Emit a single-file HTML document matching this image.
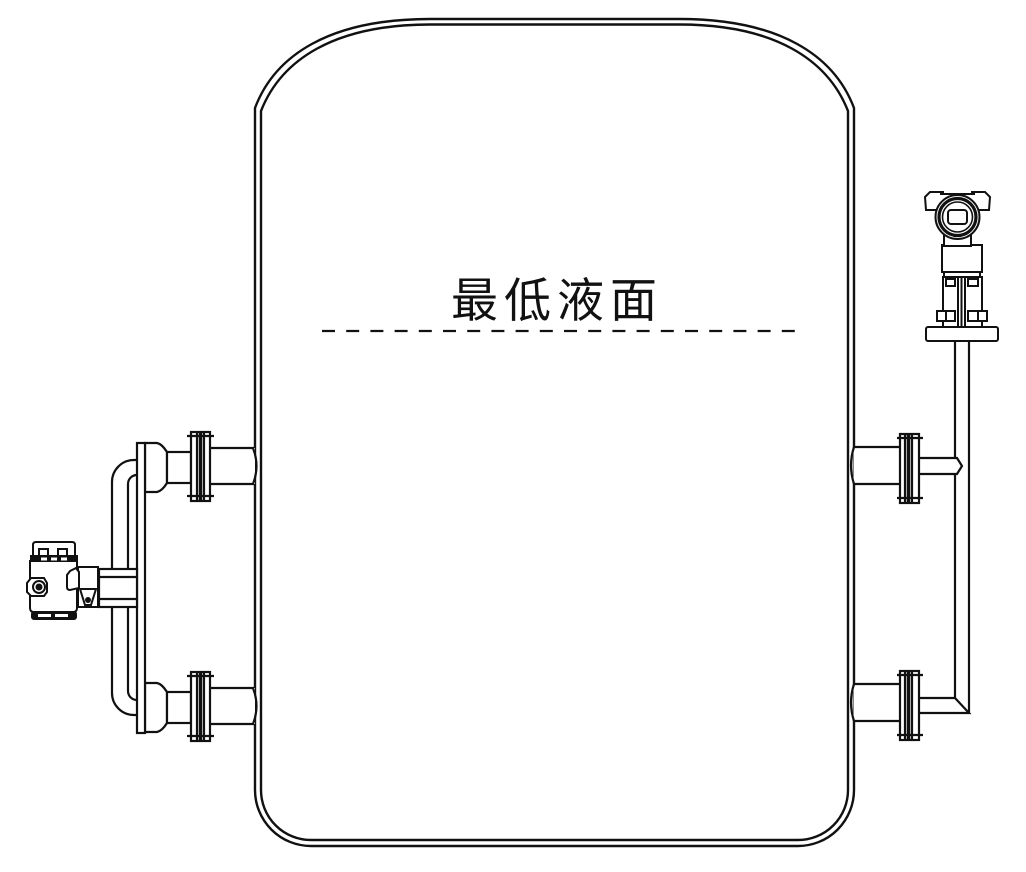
<!DOCTYPE html>
<html><head><meta charset="utf-8"><style>
html,body{margin:0;padding:0;background:#fff;}
svg{display:block;}
</style></head><body>
<svg width="1026" height="872" viewBox="0 0 1026 872" xmlns="http://www.w3.org/2000/svg">
<rect x="0" y="0" width="1026" height="872" fill="#fff"/>
<!-- Tank -->
<g fill="none" stroke="#111" stroke-width="2.4" stroke-linejoin="round">
<path d="M255,108 C275,55 330,19 430,19 L679,19 C779,19 834,55 854,108 L854,790 A56,56 0 0 1 798,846 L311,846 A56,56 0 0 1 255,790 Z"/>
<path d="M261,111 C281,60 334,24.5 430,24.5 L679,24.5 C775,24.5 828,60 848,111 L848,790 A50,50 0 0 1 798,840 L311,840 A50,50 0 0 1 261,790 Z"/>
</g>

<!-- Label and level line -->
<text x="451" y="317" font-family="'Liberation Sans','Noto Sans CJK SC',sans-serif" font-size="47" letter-spacing="6" fill="#111">最低液面</text>
<line x1="322" y1="331" x2="796" y2="331" stroke="#111" stroke-width="2.2" stroke-dasharray="13 11.2"/>

<!-- Left U pipe -->
<g fill="none" stroke="#111" stroke-width="2.2">
<path d="M137,460 L134,460 A22,22 0 0 0 112,482 L112,693 A22,22 0 0 0 134,715 L137,715"/>
<path d="M137,475 A9,9 0 0 0 128,484 L128,691 A9,9 0 0 0 137,700"/>
</g>

<!-- Left nozzles -->
<g id="lnoz" stroke="#111" stroke-width="2.2">
<rect x="210" y="448" width="45" height="36" fill="#fff" stroke="none"/>
<path d="M210,448 L254,448 M210,484 L254,484" fill="none"/>
<path d="M253,448 Q260,466 253,484" fill="none"/>
<path d="M145,443 L157,443 Q162,444 167,452 L167,483 Q162,491 157,492 L145,492 Z" fill="#fff"/>
<rect x="167" y="452" width="24" height="31" fill="#fff"/>
<rect x="191" y="432" width="19" height="69" fill="#fff"/>
<line x1="197" y1="432" x2="197" y2="501"/>
<line x1="200.5" y1="432" x2="200.5" y2="501" stroke-width="3.5"/>
<line x1="204" y1="432" x2="204" y2="501"/>
<line x1="187" y1="436" x2="214" y2="436"/>
<line x1="187" y1="496" x2="214" y2="496"/>
</g>
<use href="#lnoz" transform="translate(0,240)"/>

<!-- Left plate -->
<rect x="137" y="443" width="8" height="290" fill="#fff" stroke="#111" stroke-width="2.2"/>

<!-- Left transmitter horizontal pipe -->
<g stroke="#111" stroke-width="2.2">
<rect x="99" y="569" width="38" height="38" fill="#fff"/>
<line x1="99" y1="577" x2="137" y2="577"/>
<line x1="99" y1="599" x2="137" y2="599"/>
</g>

<!-- Left transmitter -->
<g stroke="#111" stroke-width="2" fill="#fff">
<path d="M33,557 L33,545 Q33,542 36,542 L72,542 Q75,542 75,545 L75,557 Z"/>
<rect x="39" y="549" width="9" height="8"/>
<rect x="58" y="549" width="9" height="8"/>
<rect x="31" y="556" width="46" height="6" fill="#111"/>
<path d="M30,561 L77,561 L77,608 Q77,612 73,612 L34,612 Q30,612 30,608 Z"/>
<rect x="32" y="612" width="44" height="7" rx="2" fill="#111"/>
<polygon points="27,583 31,578 44,578 47,583 47,592 44,596 31,596 27,592"/>
<circle cx="39" cy="587" r="6"/>
<circle cx="39" cy="587" r="2.5" fill="#111"/>
<path d="M78,567 L98,567 L98,607 L78,607 Z"/>
<path d="M70,571 L76,568 L79,572 L79,588 L70,590 Q67,590 67,587 L67,575 Z"/>
<path d="M80,589 L96,589 L91,605 L85,605 Z"/>
<circle cx="88" cy="600" r="2" fill="#111"/>
</g>
<g fill="#fff" stroke="none">
<rect x="41" y="557.5" width="6" height="3"/>
<rect x="51" y="557.5" width="6" height="3"/>
<rect x="61" y="557.5" width="6" height="3"/>
<rect x="38" y="614" width="13" height="3"/>
<rect x="55" y="614" width="13" height="3"/>
</g>

<!-- Right nozzles -->
<g id="rnoz" stroke="#111" stroke-width="2.2">
<rect x="853.5" y="447" width="47" height="37" fill="#fff" stroke="none"/>
<path d="M854,447 L900,447 M854,484 L900,484" fill="none"/>
<path d="M854,447 Q848,465.5 854,484" fill="none"/>
<rect x="900" y="434" width="19" height="69" fill="#fff"/>
<line x1="905" y1="434" x2="905" y2="503"/>
<line x1="908.5" y1="434" x2="908.5" y2="503" stroke-width="3.5"/>
<line x1="912" y1="434" x2="912" y2="503"/>
<line x1="897" y1="438" x2="923" y2="438"/>
<line x1="897" y1="498" x2="923" y2="498"/>
</g>
<use href="#rnoz" transform="translate(0,237)"/>

<!-- Right vertical pipe -->
<g fill="none" stroke="#111" stroke-width="2.2">
<line x1="955" y1="341" x2="955" y2="458"/>
<line x1="955" y1="474" x2="955" y2="698"/>
<line x1="969" y1="341" x2="969" y2="713"/>
<path d="M919,458 L957,458 L962,466 L957,474 L919,474"/>
<path d="M919,698 L955,698 L969,713 L919,713"/>
</g>

<!-- Right transmitter -->
<g stroke="#111" stroke-width="2" fill="#fff">
<rect x="943" y="277" width="15" height="50"/>
<rect x="965" y="277" width="17" height="50"/>
<line x1="961.5" y1="277" x2="961.5" y2="327"/>
<rect x="946" y="279" width="9" height="7"/>
<rect x="968" y="279" width="10" height="7"/>
<rect x="937" y="311" width="18" height="10"/>
<rect x="968" y="311" width="19" height="10"/>
<line x1="946" y1="311" x2="946" y2="321"/>
<line x1="978" y1="311" x2="978" y2="321"/>
<rect x="926" y="327" width="72" height="14" rx="2"/>
<rect x="944" y="271" width="36" height="6"/>
<rect x="942" y="245" width="40" height="27"/>
<rect x="944" y="232" width="27" height="14"/>
<polygon points="925,197 930,192 943,192 943,210 926,210"/>
<polygon points="990,197 985,192 972,192 972,210 989,210"/>
<rect x="940" y="194" width="35" height="20" stroke="none"/>
<line x1="940" y1="194" x2="975" y2="194"/>
<circle cx="957.5" cy="217" r="22"/>
<circle cx="957.5" cy="217" r="18.5" stroke-width="3.2"/>
<circle cx="957.5" cy="217" r="15" stroke-width="1.6"/>
<rect x="948" y="210" width="19" height="14" rx="3"/>
</g>
</svg>
</body></html>
